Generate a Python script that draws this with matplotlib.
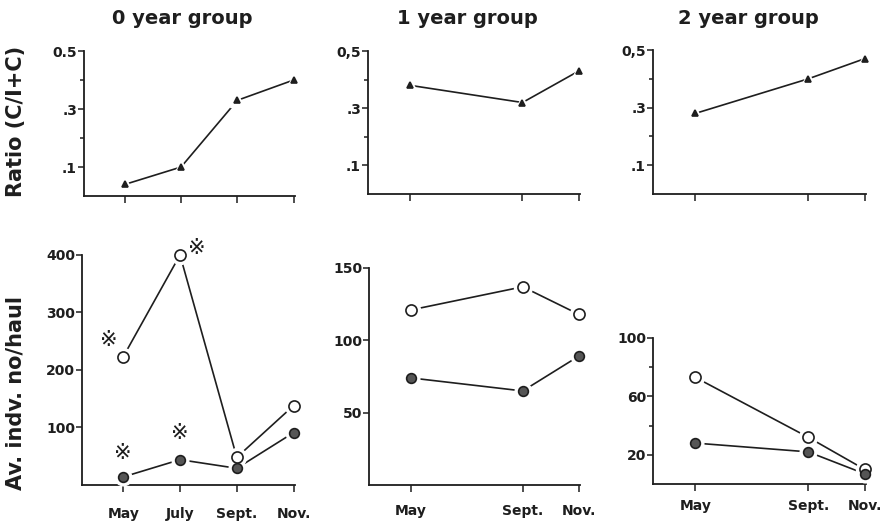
import matplotlib.pyplot as plt
from matplotlib.ticker import FixedLocator

plt.rcParams['font.family'] = ['DejaVu Sans', 'Noto Sans CJK JP']
plt.rcParams['font.weight'] = 'bold'

# months as numbers so the x spacing follows the calendar
month_num = {'May': 5, 'July': 7, 'Sept.': 9, 'Nov.': 11}

titles = ['0 year group', '1 year group', '2 year group']
months = [['May', 'July', 'Sept.', 'Nov.'],
          ['May', 'Sept.', 'Nov.'],
          ['May', 'Sept.', 'Nov.']]

# ratio C/(I+C)
ratio_0 = [0.04, 0.10, 0.33, 0.40]
ratio_1 = [0.38, 0.32, 0.43]
ratio_2 = [0.28, 0.40, 0.47]

# average individuals per haul, open and filled circles
open_0 = [223, 400, 48, 138]
filled_0 = [14, 44, 29, 91]
open_1 = [121, 137, 118]
filled_1 = [74, 65, 89]
open_2 = [73, 32, 10]
filled_2 = [28, 22, 7]

# significance marks (month, value) on the 0 year group
sig_x = [4.5, 7.6, 5.0, 7.0]
sig_y = [252, 412, 56, 90]

ratio_labels = [['0.5', '.3', '.1'], ['0,5', '.3', '.1'], ['0,5', '.3', '.1']]
count_ticks = [[100, 200, 300, 400], [50, 100, 150], [20, 60, 100]]
count_minor = [[], [], [40, 80]]
count_lim = [400, 150, 100]

top_pos = [[0.0942, 0.6252, 0.2365, 0.2772],
           [0.4126, 0.6290, 0.2377, 0.2734],
           [0.7321, 0.6290, 0.2388, 0.2753]]
bot_pos = [[0.0920, 0.0727, 0.2387, 0.4398],
           [0.4137, 0.0727, 0.2366, 0.4149],
           [0.7321, 0.0746, 0.2388, 0.2792]]
xlefts = [3.55, 3.5, 3.5]
xpads = [11, 9, 6]
title_x = [182, 467, 748]

ratios = [ratio_0, ratio_1, ratio_2]
opens = [open_0, open_1, open_2]
filleds = [filled_0, filled_1, filled_2]

ink = '#1e1e1e'
W, H = 892, 523
fig = plt.figure(figsize=(8.92, 5.23), dpi=100)


def style(ax, i):
    for s in ['top', 'right']:
        ax.spines[s].set_visible(False)
    for s in ['left', 'bottom']:
        ax.spines[s].set_linewidth(1.3)
        ax.spines[s].set_color(ink)
    ax.set_xlim(xlefts[i], 11.05)
    ax.tick_params(axis='both', which='both', direction='out', color=ink,
                   width=1.1, labelsize=10, labelcolor=ink)
    ax.tick_params(axis='y', which='major', length=4, pad=1)
    ax.tick_params(axis='y', which='minor', length=3)
    ax.tick_params(axis='x', length=5)


def draw(ax, xs, ys, marker, face, size):
    ax.plot(xs, ys, '-', color=ink, lw=1.2, zorder=2, clip_on=False)
    # white halo so the line stops short of the marker
    ax.plot(xs, ys, marker, ls='none', ms=size + 5, mfc='white', mec='white',
            zorder=3, clip_on=False)
    ax.plot(xs, ys, marker, ls='none', ms=size, mfc=face, mec=ink, mew=1.2,
            zorder=4, clip_on=False)


for i in range(3):
    xs = [month_num[m] for m in months[i]]

    ax = fig.add_axes(top_pos[i])
    style(ax, i)
    draw(ax, xs, ratios[i], '^', ink, 5)
    ax.set_ylim(0, 0.5)
    ax.set_yticks([0.5, 0.3, 0.1])
    ax.set_yticklabels(ratio_labels[i])
    ax.yaxis.set_minor_locator(FixedLocator([0.2, 0.4]))
    ax.set_xticks(xs)
    ax.set_xticklabels([])
    fig.text(title_x[i] / W, 1 - 18 / H, titles[i], fontsize=14, fontweight='bold',
             ha='center', va='center', color=ink)

    ax = fig.add_axes(bot_pos[i])
    style(ax, i)
    draw(ax, xs, opens[i], 'o', 'white', 8)
    draw(ax, xs, filleds[i], 'o', '#555555', 7)
    ax.set_ylim(0, count_lim[i])
    ax.set_yticks(count_ticks[i])
    if count_minor[i]:
        ax.yaxis.set_minor_locator(FixedLocator(count_minor[i]))
    ax.set_xticks(xs)
    ax.set_xticklabels(months[i])
    ax.tick_params(axis='x', pad=xpads[i])
    if i == 0:
        for sx, sy in zip(sig_x, sig_y):
            ax.text(sx, sy, '\u203b', fontsize=15, fontweight='normal',
                    ha='center', va='center', color=ink)

fig.text(16 / W, 1 - 121 / H, 'Ratio (C/I+C)', fontsize=15, fontweight='bold',
         rotation=90, ha='center', va='center', color=ink)
fig.text(16 / W, 1 - 393 / H, 'Av. indv. no/haul', fontsize=15, fontweight='bold',
         rotation=90, ha='center', va='center', color=ink)

fig.savefig('out.png', dpi=100)
